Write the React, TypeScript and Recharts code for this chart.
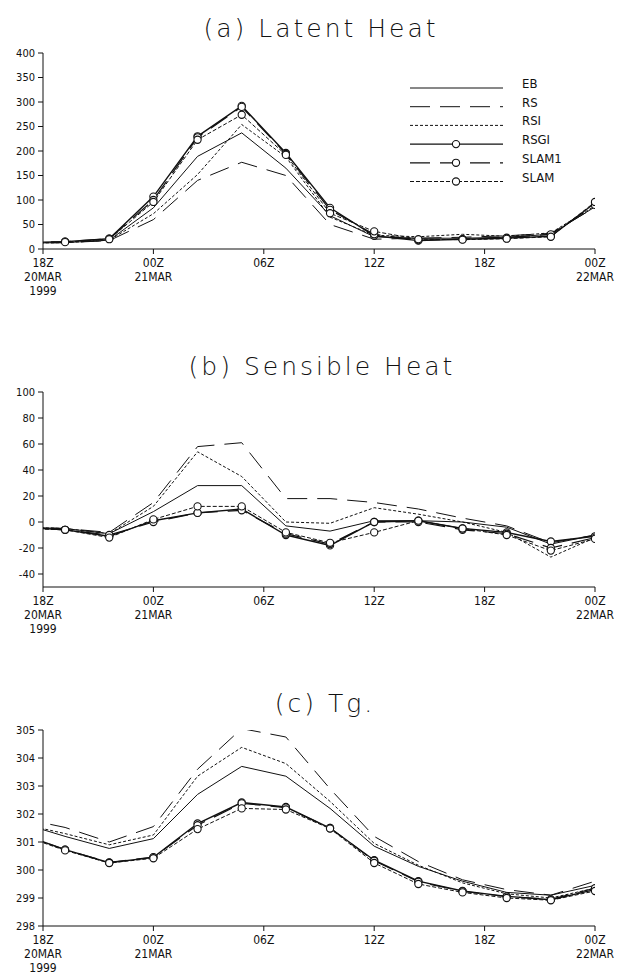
import { LineChart, Line, XAxis, YAxis, Legend } from "recharts";

// hours since 18Z 20 MAR 1999; model output every 2.4 h (first point sits left of the frame)
const hours = [-1.2, 1.2, 3.6, 6.0, 8.4, 10.8, 13.2, 15.6, 18.0, 20.4, 22.8, 25.2, 27.6, 30.0];

const xTickHours = [0, 6, 12, 18, 24, 30];
const xTickLabels = [["18Z", "20MAR", "1999"], ["00Z", "21MAR"], ["06Z"], ["12Z"], ["18Z"], ["00Z", "22MAR"]];

// (a) latent heat
const latentEB = [12, 13, 18, 84, 189, 237, 165, 68, 25, 22, 22, 24, 30, 86];
const latentRS = [12, 13, 17, 60, 140, 177, 150, 50, 20, 22, 24, 27, 32, 85];
const latentRSI = [12, 13, 18, 72, 152, 254, 188, 65, 28, 25, 30, 26, 33, 88];
const latentRSGI = [13, 15, 21, 107, 230, 292, 196, 84, 27, 17, 20, 22, 26, 94];
const latentSLAM1 = [13, 15, 21, 100, 228, 290, 194, 80, 30, 18, 20, 23, 30, 90];
const latentSLAM = [12, 14, 20, 96, 223, 274, 192, 73, 36, 20, 19, 21, 25, 96];
const latentTicks = [0, 50, 100, 150, 200, 250, 300, 350, 400];

// (b) sensible heat
const sensibleEB = [-4, -5, -9, 8, 28, 28, -3, -7, 1, 1, 0, -4, -17, -10];
const sensibleRS = [-4, -5, -8, 15, 58, 61, 18, 18, 15, 10, 3, -3, -16, -10];
const sensibleRSI = [-4, -5, -9, 12, 54, 35, 0, -1, 11, 6, 0, -8, -27, -12];
const sensibleRSGI = [-4, -6, -11, 1, 7, 10, -10, -18, 0, 1, -5, -8, -15, -11];
const sensibleSLAM1 = [-4, -6, -10, 0, 7, 9, -9, -17, 0, 0, -6, -9, -20, -12];
const sensibleSLAM = [-5, -6, -12, 2, 12, 12, -8, -16, -8, 1, -5, -10, -22, -13];
const sensibleTicks = [-40, -20, 0, 20, 40, 60, 80, 100];

// (c) ground temperature
const tgEB = [301.68, 301.2, 300.77, 301.12, 302.7, 303.7, 303.35, 302.2, 300.85, 300.13, 299.6, 299.2, 299.1, 299.45];
const tgRS = [301.85, 301.52, 301.0, 301.55, 303.6, 305.05, 304.75, 302.9, 301.2, 300.3, 299.65, 299.3, 299.1, 299.6];
const tgRSI = [301.65, 301.3, 300.9, 301.25, 303.35, 304.38, 303.8, 302.45, 300.95, 300.17, 299.54, 299.15, 299.0, 299.35];
const tgRSGI = [301.28, 300.73, 300.26, 300.45, 301.66, 302.41, 302.25, 301.5, 300.35, 299.6, 299.25, 299.06, 298.94, 299.3];
const tgSLAM1 = [301.28, 300.73, 300.27, 300.46, 301.6, 302.38, 302.23, 301.5, 300.33, 299.58, 299.24, 299.05, 298.95, 299.35];
const tgSLAM = [301.25, 300.7, 300.25, 300.42, 301.46, 302.2, 302.16, 301.48, 300.25, 299.5, 299.2, 299.0, 298.92, 299.25];
const tgTicks = [298, 299, 300, 301, 302, 303, 304, 305];

const seriesNames = ["EB", "RS", "RSI", "RSGI", "SLAM1", "SLAM"];

const styles: Record<string, { dash?: string; dot: boolean; width: number }> = {
  EB: { dot: false, width: 1 },
  RS: { dash: "20 10", dot: false, width: 1 },
  RSI: { dash: "3 2", dot: false, width: 1 },
  RSGI: { dot: true, width: 1.4 },
  SLAM1: { dash: "20 10", dot: true, width: 1.2 },
  SLAM: { dash: "4 2", dot: true, width: 1 },
};

const INK = "#111";
const tickFont = "'DejaVu Sans Condensed', 'DejaVu Sans', sans-serif";

const buildRows = (cols: number[][]) =>
  hours.map((h, i) => {
    const row: Record<string, number> = { h };
    seriesNames.forEach((n, k) => (row[n] = cols[k][i]));
    return row;
  });

const XTick = ({ x, y, payload }: any) => {
  const lines = xTickLabels[xTickHours.indexOf(payload.value)] ?? [];
  return (
    <text x={x} y={y} textAnchor="middle" fontSize={12} fontFamily={tickFont} fill={INK}>
      {lines.map((l, i) => (
        <tspan key={i} x={x} dy={i === 0 ? 11 : 14}>
          {l}
        </tspan>
      ))}
    </text>
  );
};

const CircleDot = (props: any) => {
  const { cx, cy, index } = props;
  if (cx == null || cy == null) return <g key={index} />;
  return <circle key={index} cx={cx} cy={cy} r={3.6} fill="#fff" stroke={INK} strokeWidth={1.1} />;
};

// keep the legend in series order (recharts sorts by name otherwise)
const LegendBox = ({ payload }: any) => {
  const items = [...(payload || [])].sort(
    (a: any, b: any) => seriesNames.indexOf(a.value) - seriesNames.indexOf(b.value)
  );
  return (
    <svg width={190} height={130}>
      {items.map((entry: any, i: number) => {
        const s = styles[entry.value];
        const y = 20 + i * 18.7;
        return (
          <g key={entry.value}>
            <line x1={5} x2={98} y1={y} y2={y} stroke={INK} strokeWidth={s.width} strokeDasharray={s.dash} />
            {s.dot && <circle cx={51} cy={y} r={3.6} fill="#fff" stroke={INK} strokeWidth={1.1} />}
            <text x={117} y={y} fontSize={13} fontFamily={tickFont} fill={INK}>
              {entry.value}
            </text>
          </g>
        );
      })}
    </svg>
  );
};

type PanelProps = {
  top: number;
  height: number;
  marginTop: number;
  marginBottom: number;
  xAxisHeight: number;
  cols: number[][];
  domain: [number, number];
  ticks: number[];
  legend?: boolean;
};

function Panel({ top, height, marginTop, marginBottom, xAxisHeight, cols, domain, ticks, legend }: PanelProps) {
  const data = buildRows(cols);
  return (
    <div style={{ position: "absolute", left: 0, top, width: 618, height }}>
      <LineChart
        width={618}
        height={height}
        data={data}
        margin={{ top: marginTop, right: 23, left: 0, bottom: marginBottom }}
      >
        <XAxis
          dataKey="h"
          type="number"
          domain={[0, 30]}
          allowDataOverflow
          ticks={xTickHours}
          tick={<XTick />}
          tickSize={5}
          tickMargin={2}
          height={xAxisHeight}
          stroke={INK}
        />
        <XAxis xAxisId="top" dataKey="h" type="number" orientation="top" domain={[0, 30]} allowDataOverflow tick={false} tickLine={false} height={0} stroke={INK} />
        <YAxis
          type="number"
          domain={domain}
          allowDataOverflow
          ticks={ticks}
          interval={0}
          width={43}
          tickSize={5}
          tickMargin={3}
          stroke={INK}
          tick={{ fontSize: 11, fontFamily: tickFont, fill: INK }}
        />
        <YAxis yAxisId="right" orientation="right" domain={domain} tick={false} tickLine={false} width={0} stroke={INK} />
        {seriesNames.map((n) => {
          const s = styles[n];
          return (
            <Line
              key={n}
              name={n}
              dataKey={n}
              type="linear"
              stroke={INK}
              strokeWidth={s.width}
              strokeDasharray={s.dash}
              dot={s.dot ? CircleDot : false}
              activeDot={false}
              isAnimationActive={false}
            />
          );
        })}
        {legend && (
          <Legend
            layout="vertical"
            align="center"
            verticalAlign="middle"
            wrapperStyle={{ position: "absolute", top: 68, left: 405, width: 190, height: 130 }}
            content={<LegendBox />}
          />
        )}
      </LineChart>
    </div>
  );
}

const titleFont = "'DejaVu Sans', sans-serif";

export default function App() {
  return (
    <div style={{ position: "absolute", left: 0, top: 0, width: 618, height: 974, background: "#fff" }}>
      <Panel
        top={0}
        height={320}
        marginTop={53}
        marginBottom={11}
        xAxisHeight={60}
        cols={[latentEB, latentRS, latentRSI, latentRSGI, latentSLAM1, latentSLAM]}
        domain={[0, 400]}
        ticks={latentTicks}
        legend
      />
      <Panel
        top={330}
        height={310}
        marginTop={62}
        marginBottom={3}
        xAxisHeight={50}
        cols={[sensibleEB, sensibleRS, sensibleRSI, sensibleRSGI, sensibleSLAM1, sensibleSLAM]}
        domain={[-50, 100]}
        ticks={sensibleTicks}
      />
      <Panel
        top={640}
        height={334}
        marginTop={90}
        marginBottom={0}
        xAxisHeight={48}
        cols={[tgEB, tgRS, tgRSI, tgRSGI, tgSLAM1, tgSLAM]}
        domain={[298, 305]}
        ticks={tgTicks}
      />
      <svg width={618} height={974} style={{ position: "absolute", left: 0, top: 0, pointerEvents: "none" }}>
        <g fontFamily={titleFont} fontWeight={200} fontSize={25} letterSpacing={3} fill={INK} textAnchor="middle">
          <text x={321} y={37}>(a) Latent Heat</text>
          <text x={322} y={375}>(b) Sensible Heat</text>
          <text x={325} y={712}>(c) Tg.</text>
        </g>
      </svg>
    </div>
  );
}
